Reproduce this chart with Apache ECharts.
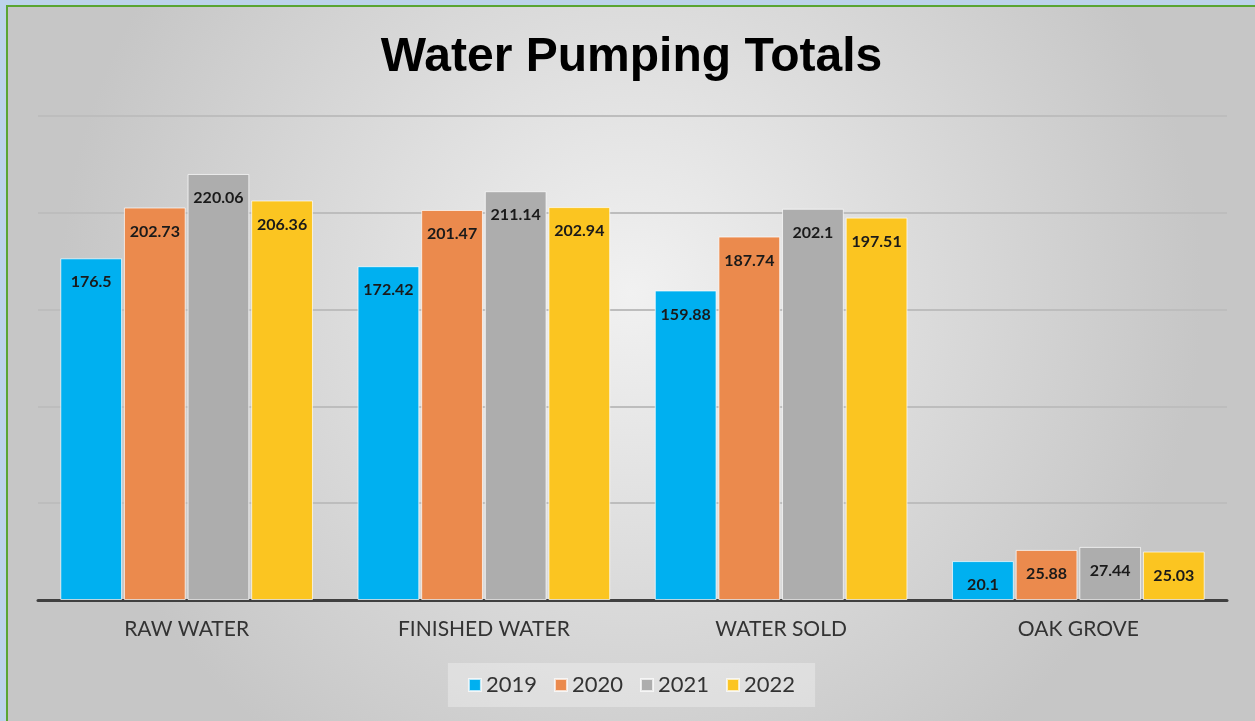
<!DOCTYPE html>
<html>
<head>
<meta charset="utf-8">
<script src="https://cdn.jsdelivr.net/npm/echarts@6/dist/echarts.min.js"></script>
<style>
  html, body { margin: 0; padding: 0; background: #bcd3ea; overflow: hidden; }
  #frame { position: absolute; left: 6px; top: 5px; width: 1260px; height: 730px; border-left: 2px solid #5aa532; border-top: 2px solid #5aa532; }
  #chart { width: 1247px; height: 714px; }
</style>
</head>
<body>
<div id="frame"><div id="chart"></div></div>
<script>
// categories and yearly totals
var categories = ['RAW WATER', 'FINISHED WATER', 'WATER SOLD', 'OAK GROVE'];
var years = ['2019', '2020', '2021', '2022'];
var v2019 = [176.5, 172.42, 159.88, 20.1];
var v2020 = [202.73, 201.47, 187.74, 25.88];
var v2021 = [220.06, 211.14, 202.1, 27.44];
var v2022 = [206.36, 202.94, 197.51, 25.03];
var colors = ['#00b0f0', '#eb8a4d', '#adadad', '#fbc521'];

var chart = echarts.init(document.getElementById('chart'));

function bar(name, data, color) {
    return {
        name: name,
        type: 'bar',
        data: data,
        barGap: '3%',
        barCategoryGap: '15%',
        itemStyle: {
            color: color,
            borderColor: 'rgba(255,255,255,0.7)',
            borderWidth: 1
        },
        label: {
            show: true,
            position: 'insideTop',
            distance: 16,
            color: '#1a1a1a',
            fontWeight: 'bold',
            fontSize: 16,
            fontFamily: 'Lato'
        }
    };
}

var option = {
    backgroundColor: {
        type: 'radial', x: 0.5, y: 0.4, r: 0.8,
        colorStops: [{offset: 0, color: '#f1f1f1'}, {offset: 1, color: '#c6c6c6'}]
    },
    title: {
        text: 'Water Pumping Totals',
        left: 'center',
        top: 22,
        textStyle: {
            fontFamily: 'Liberation Sans',
            fontWeight: 'bold',
            fontSize: 48,
            color: '#000'
        }
    },
    legend: {
        top: 656,
        left: 'center',
        padding: [11, 20],
        backgroundColor: 'rgba(255,255,255,0.3)',
        itemWidth: 12,
        itemHeight: 12,
        itemGap: 17,
        icon: 'rect',
        textStyle: {fontFamily: 'Lato', fontSize: 22, color: '#333'},
        data: years
    },
    grid: {left: 30, right: 28, top: 109, bottom: 121},
    xAxis: {
        type: 'category',
        data: categories,
        axisLine: {lineStyle: {color: '#404040', width: 3}},
        axisTick: {show: false},
        axisLabel: {fontFamily: 'Lato', fontSize: 21, color: '#333', margin: 19}
    },
    yAxis: {
        type: 'value',
        min: 0,
        max: 250,
        interval: 50,
        axisLabel: {show: false},
        axisLine: {show: false},
        axisTick: {show: false},
        splitLine: {lineStyle: {color: '#bdbdbd', width: 2}}
    },
    series: [
        bar(years[0], v2019, colors[0]),
        bar(years[1], v2020, colors[1]),
        bar(years[2], v2021, colors[2]),
        bar(years[3], v2022, colors[3])
    ]
};

chart.setOption(option);
</script>
</body>
</html>
